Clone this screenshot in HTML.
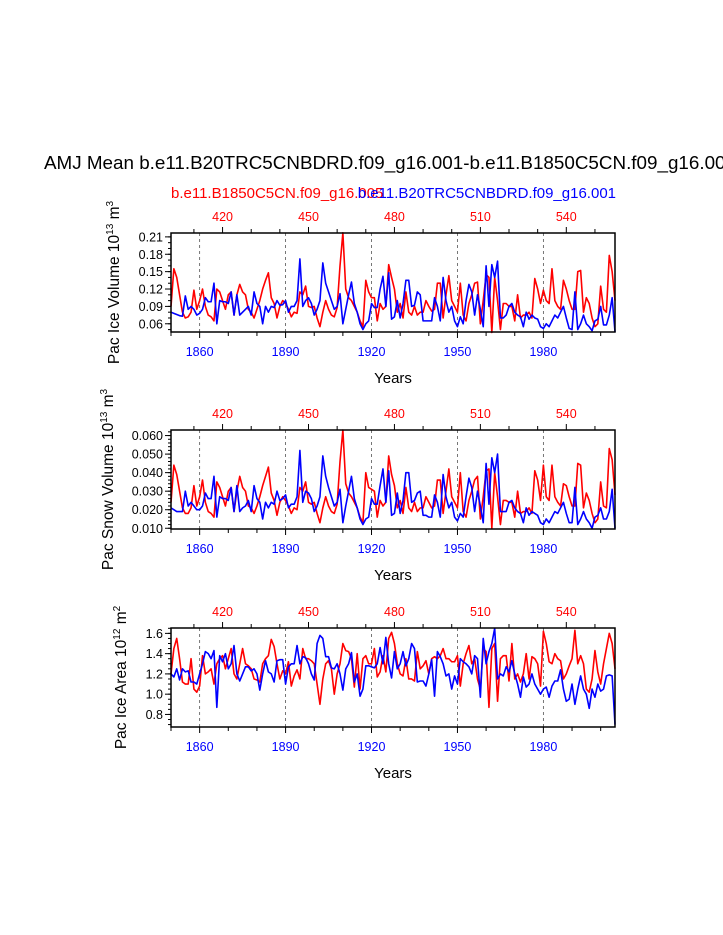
<!DOCTYPE html>
<html><head><meta charset="utf-8"><style>
html,body{margin:0;padding:0;background:#fff;}
svg{display:block;font-family:"Liberation Sans",Arial,sans-serif;}
</style></head><body>
<svg id="chart" width="723" height="935" viewBox="0 0 723 935" xmlns="http://www.w3.org/2000/svg">
<text x="44" y="169" font-size="18.5" textLength="692" lengthAdjust="spacingAndGlyphs" fill="#000">AMJ Mean b.e11.B20TRC5CNBDRD.f09_g16.001-b.e11.B1850C5CN.f09_g16.005</text>
<text x="171" y="198" font-size="15" fill="#ff0000">b.e11.B1850C5CN.f09_g16.005</text>
<text x="616" y="198" font-size="15" fill="#0000ff" text-anchor="end">b.e11.B20TRC5CNBDRD.f09_g16.001</text>
</svg>
<script>
const years = [];
for (let y = 1850; y <= 2005; y++) years.push(y);
const topYearOffset = 1448;
const bottomTickLabels = [1860, 1890, 1920, 1950, 1980];
const topTickLabels = [420, 450, 480, 510, 540];

const iceVolRed = [
0.09,0.155,0.14,0.11,0.08,0.07,0.072,0.08,0.118,0.085,
0.1,0.12,0.09,0.075,0.072,0.065,0.12,0.115,0.1,0.085,
0.11,0.115,0.075,0.11,0.128,0.115,0.11,0.085,0.08,0.07,
0.085,0.1,0.12,0.135,0.148,0.105,0.095,0.07,0.09,0.1,
0.095,0.085,0.072,0.08,0.078,0.115,0.11,0.125,0.09,0.088,
0.09,0.07,0.055,0.08,0.1,0.085,0.075,0.072,0.088,0.16,
0.217,0.12,0.105,0.1,0.09,0.08,0.065,0.055,0.135,0.115,
0.105,0.105,0.065,0.095,0.085,0.09,0.162,0.14,0.12,0.08,
0.095,0.07,0.115,0.08,0.075,0.09,0.075,0.08,0.08,0.1,
0.09,0.082,0.085,0.13,0.13,0.07,0.11,0.143,0.1,0.09,
0.08,0.13,0.075,0.065,0.095,0.11,0.13,0.132,0.06,0.1,
0.145,0.14,0.045,0.14,0.1,0.05,0.095,0.095,0.09,0.09,
0.065,0.11,0.07,0.075,0.075,0.08,0.07,0.138,0.12,0.095,
0.118,0.1,0.095,0.155,0.1,0.09,0.085,0.135,0.12,0.1,
0.085,0.085,0.15,0.152,0.08,0.105,0.095,0.07,0.055,0.06,
0.125,0.085,0.08,0.178,0.15,0.1];
const iceVolBlue = [
0.08,0.078,0.076,0.074,0.073,0.108,0.085,0.09,0.085,0.075,
0.078,0.085,0.105,0.098,0.098,0.13,0.06,0.1,0.098,0.098,
0.095,0.115,0.075,0.11,0.075,0.08,0.085,0.09,0.075,0.115,
0.095,0.09,0.06,0.09,0.08,0.09,0.088,0.1,0.092,0.093,
0.1,0.08,0.09,0.09,0.1,0.172,0.09,0.1,0.105,0.095,
0.075,0.085,0.1,0.165,0.13,0.115,0.1,0.085,0.09,0.112,
0.06,0.085,0.11,0.132,0.095,0.08,0.06,0.05,0.06,0.065,
0.095,0.088,0.088,0.12,0.142,0.09,0.148,0.068,0.072,0.1,
0.07,0.095,0.135,0.135,0.09,0.092,0.115,0.11,0.065,0.065,
0.065,0.065,0.105,0.09,0.065,0.14,0.1,0.08,0.09,0.065,
0.055,0.072,0.06,0.1,0.128,0.115,0.075,0.11,0.085,0.055,
0.16,0.09,0.162,0.14,0.168,0.07,0.07,0.075,0.09,0.095,
0.08,0.075,0.072,0.055,0.08,0.068,0.075,0.07,0.068,0.055,
0.052,0.06,0.055,0.065,0.075,0.07,0.08,0.09,0.07,0.052,
0.05,0.115,0.05,0.06,0.075,0.06,0.055,0.048,0.065,0.068,
0.09,0.058,0.058,0.075,0.105,0.046];

const snowRed = [
0.024,0.044,0.039,0.030,0.021,0.018,0.018,0.021,0.033,0.022,
0.027,0.036,0.024,0.019,0.018,0.016,0.035,0.032,0.027,0.022,
0.030,0.032,0.019,0.030,0.038,0.032,0.030,0.022,0.021,0.018,
0.022,0.027,0.033,0.038,0.043,0.029,0.025,0.017,0.024,0.027,
0.025,0.022,0.018,0.021,0.020,0.032,0.030,0.035,0.024,0.023,
0.024,0.018,0.013,0.021,0.027,0.022,0.019,0.018,0.023,0.046,
0.063,0.034,0.029,0.027,0.024,0.021,0.016,0.013,0.040,0.032,
0.031,0.030,0.016,0.025,0.022,0.024,0.049,0.039,0.033,0.021,
0.025,0.018,0.032,0.021,0.019,0.024,0.019,0.021,0.021,0.027,
0.024,0.021,0.022,0.036,0.036,0.018,0.030,0.042,0.027,0.024,
0.021,0.040,0.019,0.016,0.025,0.030,0.036,0.038,0.015,0.027,
0.041,0.042,0.010,0.040,0.027,0.012,0.025,0.025,0.024,0.024,
0.016,0.030,0.018,0.019,0.019,0.021,0.018,0.041,0.036,0.025,
0.044,0.027,0.025,0.044,0.027,0.024,0.022,0.034,0.033,0.027,
0.022,0.022,0.045,0.044,0.021,0.029,0.025,0.018,0.013,0.015,
0.035,0.022,0.021,0.053,0.047,0.028];
const snowBlue = [
0.021,0.020,0.019,0.019,0.019,0.030,0.022,0.024,0.022,0.020,
0.020,0.022,0.029,0.026,0.026,0.038,0.016,0.027,0.026,0.026,
0.025,0.032,0.019,0.033,0.019,0.021,0.022,0.025,0.019,0.033,
0.026,0.024,0.015,0.024,0.021,0.024,0.023,0.030,0.025,0.026,
0.028,0.021,0.023,0.023,0.027,0.052,0.024,0.030,0.029,0.026,
0.019,0.022,0.027,0.049,0.038,0.032,0.027,0.022,0.024,0.031,
0.013,0.022,0.030,0.038,0.026,0.021,0.015,0.012,0.015,0.016,
0.026,0.023,0.023,0.033,0.042,0.024,0.041,0.017,0.018,0.029,
0.018,0.025,0.040,0.040,0.024,0.025,0.029,0.030,0.017,0.017,
0.016,0.016,0.028,0.024,0.016,0.039,0.027,0.021,0.024,0.016,
0.014,0.018,0.016,0.027,0.037,0.032,0.019,0.030,0.022,0.013,
0.045,0.023,0.048,0.040,0.050,0.019,0.019,0.019,0.024,0.025,
0.021,0.019,0.018,0.013,0.021,0.017,0.019,0.018,0.017,0.013,
0.012,0.015,0.013,0.016,0.019,0.018,0.021,0.024,0.018,0.013,
0.013,0.032,0.012,0.015,0.019,0.015,0.013,0.010,0.016,0.017,
0.021,0.015,0.015,0.019,0.031,0.010];

const areaRed = [
1.2,1.45,1.55,1.35,1.12,1.1,1.1,1.35,1.05,1.02,
1.08,1.38,1.2,1.22,1.25,1.1,1.3,1.35,1.38,1.25,
1.35,1.45,1.2,1.15,1.3,1.45,1.3,1.28,1.25,1.15,
1.14,1.12,1.3,1.35,1.38,1.54,1.47,1.3,1.15,1.23,
1.2,1.32,1.08,1.18,1.24,1.15,1.45,1.35,1.35,1.33,
1.3,1.1,0.9,1.15,1.3,1.33,1.25,1.0,1.2,1.3,
1.5,1.43,1.42,1.35,1.07,1.4,1.05,1.35,1.38,1.3,
1.3,1.45,1.17,1.22,1.38,1.22,1.55,1.61,1.5,1.3,
1.2,1.18,1.35,1.15,1.15,1.13,1.42,1.25,1.28,1.33,
1.2,1.35,1.37,1.35,1.38,1.45,1.35,1.35,1.32,1.32,
1.38,1.08,1.3,1.4,1.48,1.3,1.35,1.15,1.05,1.45,
1.42,0.87,1.45,1.5,0.93,1.35,1.38,1.38,1.13,1.5,
1.15,1.2,1.12,1.2,1.4,1.15,1.37,1.35,1.3,1.08,
1.62,1.5,1.32,1.3,1.4,1.35,1.33,1.15,1.2,1.28,
1.35,1.63,1.3,1.38,1.3,1.05,1.02,1.15,1.43,1.22,
1.1,1.3,1.45,1.6,1.5,1.25];
const areaBlue = [
1.2,1.17,1.25,1.14,1.25,1.22,1.23,1.12,1.12,1.1,
1.2,1.3,1.42,1.4,1.35,1.43,0.87,1.38,1.32,1.4,
1.25,1.3,1.48,1.2,1.13,1.2,1.27,1.27,1.23,1.25,
1.2,1.04,1.2,1.33,1.22,1.2,1.12,1.33,1.34,1.34,
1.1,1.27,1.3,1.3,1.48,1.3,1.37,1.36,1.3,1.2,
1.14,1.5,1.58,1.55,1.37,1.37,1.26,1.25,1.3,1.2,
1.04,1.25,1.3,1.41,1.12,1.2,0.98,1.05,1.28,1.28,
1.27,1.26,1.3,1.46,1.3,1.56,1.3,1.16,1.42,1.25,
1.3,1.42,1.28,1.35,1.5,1.45,1.12,1.13,1.13,1.08,
1.2,1.34,0.98,1.42,1.37,1.3,1.18,1.2,1.05,1.18,
1.1,1.35,1.32,1.3,1.27,1.2,1.38,1.35,0.97,1.55,
1.3,1.42,1.5,1.65,1.15,1.2,1.18,1.27,1.22,1.33,
1.2,1.1,0.97,1.17,1.07,1.1,1.2,1.1,1.05,1.0,
1.05,1.07,0.97,1.08,1.13,1.13,1.24,1.05,0.93,0.95,
1.1,0.9,1.05,1.18,1.05,1.0,0.86,1.05,0.97,1.1,
1.03,1.05,1.18,1.19,1.18,0.7];

const iceVolTicks = [0.06,0.09,0.12,0.15,0.18,0.21];
const snowTicks = [0.010,0.020,0.030,0.040,0.050,0.060];
const areaTicks = [0.8,1.0,1.2,1.4,1.6];

const svg = document.getElementById('chart');
const NS = 'http://www.w3.org/2000/svg';
function mk(tag, attrs, parent) {
  const e = document.createElementNS(NS, tag);
  for (const k in attrs) e.setAttribute(k, attrs[k]);
  (parent || svg).appendChild(e);
  return e;
}
const X0 = 171, X1 = 615;
const yearMin = years[0], yearMax = years[years.length - 1];
function xScale(yr) { return X0 + (yr - yearMin) / (yearMax - yearMin) * (X1 - X0); }

const panels = [
  {name:'ice-volume', top:233, bot:332, vmin:0.0458, vmax:0.2167, ticks:iceVolTicks, minor:0.01, dec:2,
   red:iceVolRed, blue:iceVolBlue, title:'Pac Ice Volume 10', exp:'13', unit:' m', uexp:'3', titleX:119},
  {name:'snow-volume', top:430, bot:529, vmin:0.0096, vmax:0.0630, ticks:snowTicks, minor:0.002, dec:3,
   red:snowRed, blue:snowBlue, title:'Pac Snow Volume 10', exp:'13', unit:' m', uexp:'3', titleX:113},
  {name:'ice-area', top:628, bot:727, vmin:0.676, vmax:1.653, ticks:areaTicks, minor:0.05, dec:1,
   red:areaRed, blue:areaBlue, title:'Pac Ice Area 10', exp:'12', unit:' m', uexp:'2', titleX:126}
];

panels.forEach(p => {
  const g = mk('g', {});
  
  
  const yS = v => p.bot - (v - p.vmin) / (p.vmax - p.vmin) * (p.bot - p.top);
  bottomTickLabels.forEach(yr => {
    const l = mk('line', {x1:xScale(yr), x2:xScale(yr), y1:p.top, y2:p.bot, stroke:'#555', 'stroke-width':0.8, 'stroke-dasharray':'3,3'}, g);
    
    
  });
  [['red','#ff0000'],['blue','#0000ff']].forEach(([key,col]) => {
    const pts = p[key].map((v,i) => xScale(years[i]).toFixed(2) + ',' + yS(v).toFixed(2)).join(' ');
    const pl = mk('polyline', {points:pts, fill:'none', stroke:col, 'stroke-width':1.6, 'stroke-linejoin':'round'}, g);
    
    
  });
  const fr = mk('rect', {x:X0, y:p.top, width:X1-X0, height:p.bot-p.top, fill:'none', stroke:'#000', 'stroke-width':1.5}, g);
  
  
  for (let yr = 1850; yr <= 2005; yr += 10) {
    const x = xScale(yr), major = bottomTickLabels.includes(yr);
    mk('line', {x1:x, x2:x, y1:p.bot, y2:p.bot + (major?6:4), stroke:'#000', 'stroke-width':1}, g);
  }
  for (let t = 410; t <= 550; t += 10) {
    const x = xScale(t + topYearOffset), major = topTickLabels.includes(t);
    mk('line', {x1:x, x2:x, y1:p.top, y2:p.top - (major?6:4), stroke:'#000', 'stroke-width':1}, g);
  }
  bottomTickLabels.forEach(yr => {
    const t = mk('text', {x:xScale(yr), y:p.bot + 24, 'font-size':12.5, fill:'#0000ff', 'text-anchor':'middle'}, g);
    t.textContent = yr;
    
    
  });
  topTickLabels.forEach(v => {
    const t = mk('text', {x:xScale(v + topYearOffset), y:p.top - 12, 'font-size':12.5, fill:'#ff0000', 'text-anchor':'middle'}, g);
    t.textContent = v;
    
    
  });
  const start = Math.ceil(p.vmin / p.minor - 1e-9) * p.minor;
  for (let v = start; v <= p.vmax + 1e-9; v += p.minor) {
    mk('line', {x1:X0, x2:X0 - 3, y1:yS(v), y2:yS(v), stroke:'#000', 'stroke-width':1}, g);
  }
  p.ticks.forEach(v => {
    mk('line', {x1:X0, x2:X0 - 6, y1:yS(v), y2:yS(v), stroke:'#000', 'stroke-width':1}, g);
    const t = mk('text', {x:X0 - 8, y:yS(v) + 4.5, 'font-size':12.5, fill:'#000', 'text-anchor':'end'}, g);
    t.textContent = v.toFixed(p.dec);
    
    
  });
  const xt = mk('text', {x:393, y:p.bot + 51, 'font-size':15, fill:'#000', 'text-anchor':'middle'}, g);
  xt.textContent = 'Years';
  
  
  const cy = (p.top + p.bot) / 2;
  const yt = mk('text', {x:p.titleX, y:cy, 'font-size':15.5, fill:'#000', 'text-anchor':'middle', transform:'rotate(-90 ' + p.titleX + ' ' + cy + ')'}, g);
  
  
  const s1 = mk('tspan', {}, yt); s1.textContent = p.title;
  const s2 = mk('tspan', {dy:-6, 'font-size':10}, yt); s2.textContent = p.exp;
  const s3 = mk('tspan', {dy:6}, yt); s3.textContent = p.unit;
  const s4 = mk('tspan', {dy:-6, 'font-size':10}, yt); s4.textContent = p.uexp;
});
</script>
</body></html>
